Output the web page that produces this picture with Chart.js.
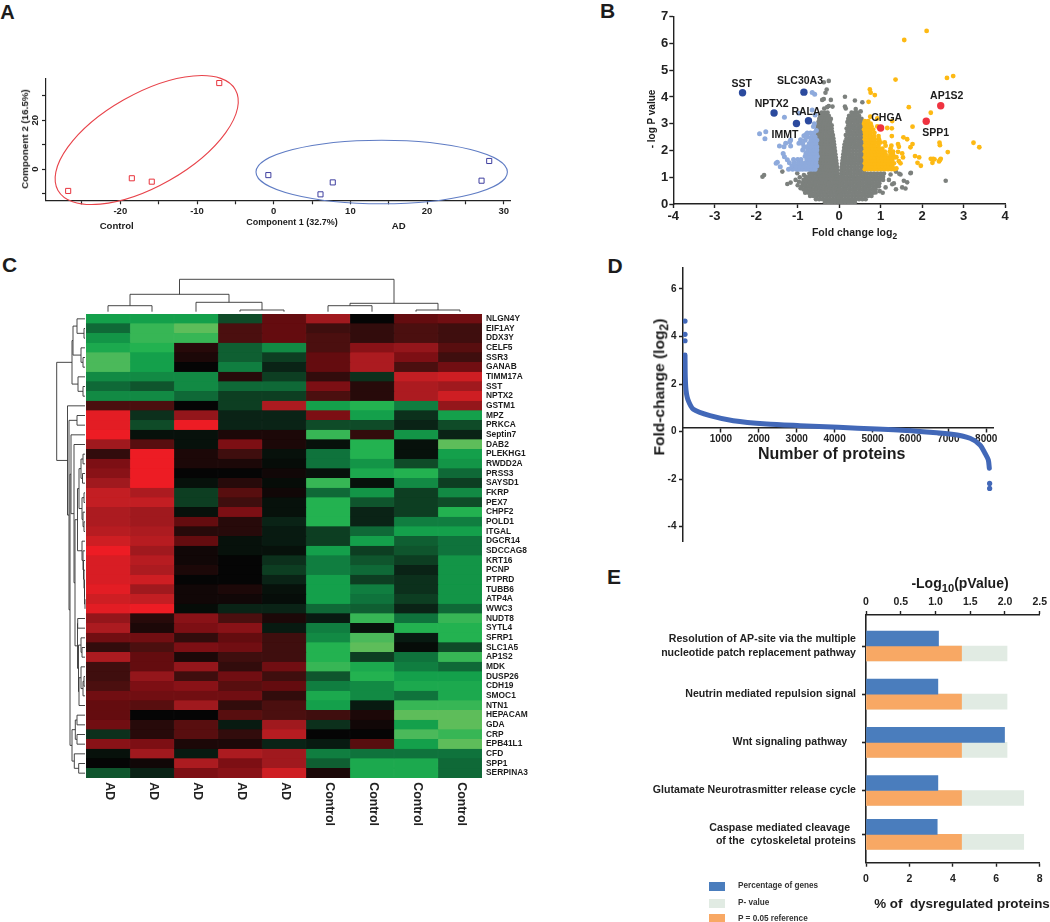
<!DOCTYPE html>
<html>
<head>
<meta charset="utf-8">
<title>Proteomics panels</title>
<script src="https://cdn.jsdelivr.net/npm/chart.js@4/dist/chart.umd.min.js"></script>
<style>
html, body { margin: 0; padding: 0; background: #fff; }
#page { position: relative; width: 1050px; height: 922px; overflow: hidden; font-family: "Liberation Sans", sans-serif; }
#page canvas { position: absolute; }
.note { position: absolute; font-weight: bold; color: #1c1c1c; white-space: nowrap; transform: translate(-50%, -50%); line-height: 1; }
.note sub { font-size: 0.8em; vertical-align: -0.35em; line-height: 0; }
.swatch { position: absolute; }
</style>
</head>
<body>
<div id="page"></div>
<script>
// ---- panel A: PCA ----
const pcaControl = [[-26.8, -9.0], [-18.5, -3.8], [-15.9, -5.2], [-7.1, 35.3]];
const pcaAD = [[-0.7, -2.5], [6.1, -10.4], [7.7, -5.5], [27.1, -4.8], [28.1, 3.3]];
// centre in data units, semi axes in pixels, angle in degrees
const pcaEllipses = [
    { center: [-16.56, 11.9], a: 102, b: 46.3, angle: -29.6, color: '#e8434a' },
    { center: [14.08, -1.23], a: 125.7, b: 31.8, angle: 0, color: '#5f7cc4' }
];

// ---- panel B: volcano ----
const volcanoUpNamed = [[2.45, 3.67], [2.10, 3.09], [1.0, 2.84]];
const volcanoDownNamed = [[-2.33, 4.16], [-0.85, 4.18], [-1.57, 3.40], [-0.74, 3.11], [-1.03, 3.01]];
// each row: y, then the x values read at that height
const volcanoUpSparse = [[2.11,6.47],[1.57,6.13],[2.75,4.78],[2.60,4.71],[1.36,4.65],[0.74,4.28],[0.76,4.16],[0.86,4.07],[0.71,3.82],[1.68,3.62],[2.21,3.41],[0.75,3.26],[0.92,3.2],[1.28,3.1],[1.77,2.89],[1.16,2.84],[1.27,2.83],[1.55,2.49],[1.64,2.42],[1.27,2.54],[3.24,2.29],[3.38,2.12],[2.42,2.29],[2.43,2.2],[2.62,1.94],[1.77,2.24],[1.72,2.12],[1.42,2.24],[1.44,2.14],[1.52,1.89],[1.54,1.74],[1.83,1.79],[1.93,1.74],[1.89,1.54],[1.97,1.43],[2.21,1.69],[2.27,1.69],[2.3,1.67],[2.25,1.54],[2.43,1.64],[2.45,1.69],[2.41,1.59],[1.48,1.52],[1.38,1.33],[1.42,1.95],[1.38,1.75],[1.44,1.6]];
const volcanoUpRows = [
    [1.3,.62,.7,.78,.86,.94,1.02,1.1,1.18,1.26,1.33],
    [1.41,.64,.72,.8,.88,.96,1.04,1.12,1.2,1.28],
    [1.52,.62,.7,.78,.86,.94,1.02,1.1,1.18,1.26,1.32],
    [1.63,.64,.72,.8,.88,.96,1.04,1.12,1.2,1.28],
    [1.74,.62,.7,.78,.86,.94,1.02,1.1,1.18,1.26,1.34],
    [1.85,.64,.72,.8,.88,.96,1.04,1.12,1.24,1.3],
    [1.96,.62,.7,.78,.86,.94,1.02,1.1,1.22,1.3],
    [2.07,.64,.72,.8,.88,.96,1.04,1.24],
    [2.18,.62,.7,.78,.86,.95,1.12,1.26],
    [2.3,.64,.72,.8,.88,.96,1.1,1.0],
    [2.42,.62,.7,.78,.86,.96],
    [2.54,.62,.7,.76,.84,.95],
    [2.66,.62,.68,.76,.85],
    [2.78,.6,.68,.75,.82],
    [2.9,.62,.7,.78,.92],
    [3.0,.6,.68,.76],
    [3.1,.62,.7]
];
const volcanoDownSparse = [[-1.92,2.63],[-1.77,2.7],[-1.79,2.44],[-1.32,3.24],[-0.97,3.39],[-0.65,4.17],[-0.59,4.1],[-0.65,3.51],[-0.58,3.33],[-1.44,2.17],[-1.33,2.14],[-1.29,2.27],[-1.17,2.39],[-1.19,2.33],[-1.49,1.56],[-1.52,1.52],[-1.42,1.39],[-1.35,1.89],[-1.32,1.77],[-1.25,1.65],[-1.17,2.17],[-0.97,2.27],[-0.93,2.4],[-0.8,2.6],[-0.77,2.65],[-0.69,2.65],[-0.61,2.65],[-0.62,2.9],[-0.55,2.75],[-0.85,2.55],[-0.6,3.0]];
const volcanoDownRows = [
    [1.3,-1.22,-1.12,-1.02,-.95,-.88,-.8,-.72,-.65,-.58],
    [1.42,-1.14,-1.04,-.94,-.84,-.74,-.67,-.6,-.54],
    [1.54,-1.2,-1.08,-.98,-.9,-.8,-.72,-.64,-.56],
    [1.66,-1.1,-1.0,-.92,-.78,-.7,-.62,-.55],
    [1.78,-.82,-.74,-.66,-.58,-.53],
    [1.9,-.8,-.7,-.62,-.55],
    [2.02,-.88,-.76,-.68,-.6,-.54],
    [2.14,-.85,-.78,-.68,-.6,-.54],
    [2.26,-.88,-.72,-.64,-.56],
    [2.38,-.82,-.68,-.6,-.54],
    [2.5,-.76,-.66,-.58]
];
const volcanoGraySparse = [[-.25,4.6],[-.37,4.55],[-.3,4.28],[-.33,4.16],[-.37,3.92],[-.2,3.89],[-.25,3.66],[-.41,3.89],[-.16,3.64],[-.29,3.62],[-.36,3.57],[.14,4.01],[.14,3.64],[.38,3.87],[.56,3.8],[.52,3.46],[.16,3.57],[.4,3.55],[-1.85,1.02],[-1.81,1.08],[-1.37,1.21],[-1.25,.75],[-1.17,.8],[-1.01,1.15],[-1.05,.9],[-.97,.83],[-.85,1.08],[-.77,.46],[-.93,.59],[-.8,.64],[-1.0,.7],[-.95,1.0],[1.37,1.21],[1.45,1.13],[1.48,1.1],[1.73,1.17],[1.28,.74],[1.64,.81],[1.52,.62],[1.37,.55],[.88,.43],[.98,.48],[2.57,.87],[1.56,.87],[1.72,1.15],[1.6,.58],[1.32,.77],[1.2,.9],[1.24,1.1],[1.12,.62],[1.05,.42]];
const volcanoGrayRows = [
    [3.42,-.42,-.35,-.28,.3,.38,.45],
    [3.3,-.46,-.39,-.32,-.25,.24,.32,.4,.48],
    [3.18,-.48,-.41,-.34,-.27,-.2,.22,.3,.38,.46,.54],
    [3.06,-.5,-.43,-.36,-.29,-.22,.2,.28,.36,.44,.52],
    [2.94,-.52,-.45,-.38,-.31,-.24,-.18,.22,.3,.38,.46,.54],
    [2.82,-.53,-.46,-.39,-.32,-.25,-.18,.18,.26,.34,.42,.5,.56],
    [2.7,-.53,-.46,-.39,-.32,-.25,-.17,.2,.28,.36,.44,.52,.58],
    [2.58,-.54,-.47,-.4,-.33,-.26,-.19,-.15,.16,.24,.32,.4,.48,.56],
    [2.46,-.54,-.47,-.4,-.33,-.26,-.19,-.14,.18,.26,.34,.42,.5,.57],
    [2.34,-.55,-.48,-.41,-.34,-.27,-.2,-.13,.15,.22,.3,.38,.46,.54],
    [2.22,-.55,-.48,-.41,-.34,-.27,-.2,-.12,.13,.2,.28,.36,.44,.52,.58],
    [2.1,-.56,-.49,-.42,-.35,-.28,-.21,-.14,-.11,.12,.18,.26,.34,.42,.5,.57],
    [1.98,-.56,-.49,-.42,-.35,-.28,-.21,-.14,-.1,.11,.18,.25,.33,.41,.49,.57],
    [1.86,-.57,-.5,-.43,-.36,-.29,-.22,-.15,-.09,.1,.17,.25,.33,.41,.49,.57],
    [1.74,-.58,-.51,-.44,-.37,-.3,-.23,-.16,-.08,.09,.16,.24,.32,.4,.48,.56],
    [1.62,-.6,-.52,-.45,-.38,-.31,-.24,-.17,-.1,-.07,.08,.15,.23,.31,.39,.47,.55],
    [1.5,-.6,-.53,-.46,-.39,-.32,-.25,-.18,-.11,-.06,.07,.14,.22,.3,.38,.46,.54],
    [1.38,-.62,-.55,-.48,-.41,-.34,-.27,-.2,-.13,-.05,.06,.13,.21,.29,.37,.45,.53,.58],
    [1.26,-.68,-.6,-.52,-.45,-.38,-.31,-.24,-.17,-.1,-.05,.05,.12,.2,.28,.36,.44,.52,.6],
    [1.14,-.72,-.64,-.57,-.5,-.43,-.36,-.29,-.22,-.15,-.08,-.04,.05,.12,.2,.28,.36,.44,.52,.6,.68,.76,.84,.92,1.0,1.08],
    [1.02,-.8,-.72,-.64,-.56,-.49,-.42,-.35,-.28,-.21,-.14,-.07,-.03,.04,.11,.19,.27,.35,.43,.51,.59,.67,.75,.83,.91,.99,1.06],
    [.9,-.86,-.78,-.7,-.62,-.54,-.46,-.38,-.3,-.22,-.14,-.07,-.03,.03,.1,.18,.26,.34,.42,.5,.58,.66,.74,.82,.9,.98,1.06],
    [.78,-.88,-.8,-.72,-.64,-.56,-.48,-.4,-.32,-.24,-.16,-.08,-.02,.02,.09,.17,.25,.33,.41,.49,.57,.65,.73,.81,.89,.97],
    [.66,-.9,-.82,-.74,-.66,-.58,-.5,-.42,-.34,-.26,-.18,-.1,-.02,.02,.1,.18,.26,.34,.42,.5,.58,.66,.74,.82,.9,.96],
    [.54,-.86,-.78,-.7,-.62,-.54,-.46,-.38,-.3,-.22,-.14,-.06,-.01,.01,.08,.16,.24,.32,.4,.48,.56,.64,.72,.8,.88],
    [.42,-.82,-.74,-.66,-.58,-.5,-.42,-.34,-.26,-.18,-.1,-.03,.03,.1,.18,.26,.34,.42,.5,.58,.66,.74,.82],
    [.3,-.7,-.62,-.54,-.46,-.38,-.3,-.22,-.14,-.06,0,.06,.14,.22,.3,.38,.46,.54,.62,.7,.78],
    [.18,-.56,-.48,-.4,-.32,-.24,-.16,-.08,0,.08,.16,.24,.32,.4,.48,.56,.64],
    [.07,-.34,-.26,-.18,-.1,-.02,.06,.14,.22,.3,.38]
];

// ---- panel C: heatmap ----
const heatColumns = ['AD', 'AD', 'AD', 'AD', 'AD', 'Control', 'Control', 'Control', 'Control'];
const heatGenes = ['NLGN4Y','EIF1AY','DDX3Y','CELF5','SSR3','GANAB','TIMM17A','SST','NPTX2','GSTM1','MPZ','PRKCA','Septin7','DAB2','PLEKHG1','RWDD2A','PRSS3','SAYSD1','FKRP','PEX7','CHPF2','POLD1','ITGAL','DGCR14','SDCCAG8','KRT16','PCNP','PTPRD','TUBB6','ATP4A','WWC3','NUDT8','SYTL4','SFRP1','SLC1A5','AP1S2','MDK','DUSP26','CDH19','SMOC1','NTN1','HEPACAM','GDA','CRP','EPB41L1','CFD','SPP1','SERPINA3'];
// read by eye: -10 light green, 0 black, 10 bright red
const heatValues = [
    [-7,-7,-7,-3,4,6.5,0,4,4.5],
    [-4.5,-8.5,-9.5,3,4,2.5,2,3,2.5],
    [-6.5,-8.5,-8.5,3,4,3,2,3,2.5],
    [-7.5,-8,1.5,-4,-6,3,5.5,6,3.5],
    [-9,-7,1,-4,-2.5,4,7,5,2.5],
    [-9,-7,0,-5.5,-1.5,4,7,3,4.5],
    [-6,-6,-6,1.5,-2.5,2,-2,8,8.5],
    [-4.5,-3.5,-6,-4.5,-4.5,5,1.5,7,6.5],
    [-6,-6,-4.5,-2.5,-2.5,3,1.5,7,8.5],
    [3,3,0,-2.5,7,-7,-8,-5.5,6],
    [9.5,-2,6,-1.5,-1.5,5,-7,-2,-7],
    [9.5,-3,10,-1.5,-1.5,-3,-3,-1.5,-3],
    [10,-.5,-.5,1,1,-8.5,2,-6.5,-1.5],
    [6.5,3.5,-.5,5,1,-.5,-8,-.5,-9.5],
    [2,10,1,2.5,-.5,-5,-8,-.5,-7],
    [5,10,1,1,-.2,-5,-6.5,-3,-6.5],
    [5.5,10,0,0,.5,-.5,-7.5,-8,-4.5],
    [6.5,10,-.5,1.5,-.2,-8.5,-.5,-6,-2.5],
    [8,7,-2.5,3.5,.5,-4.5,-6.5,-2.5,-6],
    [8,8,-2.5,2.5,-.5,-8,-3.5,-2.5,-3],
    [7,6.5,-.5,5,-.5,-8,-1.5,-2.5,-8],
    [7,6.5,4,1.5,-1.5,-8,-1.5,-5.5,-5.5],
    [7.5,7,1.5,1.5,-1,-2.5,-4.5,-7,-7],
    [8.5,7.5,4,-.5,-1,-2.5,-7,-4,-5],
    [10,6.5,.5,-.5,-.5,-7,-2.5,-3.5,-5],
    [9,7.5,.5,0,-2,-5.5,-3.5,-2.5,-6.5],
    [9,7,1,0,-2.5,-5.5,-4.5,-1.5,-6.5],
    [9,8.5,0,0,-1.5,-7,-2.5,-2,-6.5],
    [9.5,6.5,.5,1,-.5,-7,-5.5,-2,-6.5],
    [8.5,8,.5,.5,-.3,-7,-5,-2.5,-6.5],
    [9.5,10,-.2,-1.5,-1.5,-4.5,-4,-1.5,-4.5],
    [6,1.5,5.5,3,1,-1,-8.5,-5,-8.5],
    [7,1,5,5.5,-1,-5.5,-.5,-8,-8],
    [4.5,4.5,2,4,2.5,-6,-9,-1,-8],
    [2,3,5,4.5,2.5,-8,-9.5,-.2,-3],
    [7,4,1,2.5,2.5,-8,-2.5,-5,-8.5],
    [2.5,4,6,2,4.5,-8.5,-7.5,-5.5,-4.5],
    [2.5,6,2.5,4.5,2.5,-3.5,-8,-7,-7],
    [3,5,5.5,3.5,4,-5.5,-6,-7.5,-7.5],
    [4.5,4.5,4.5,4.5,2,-7.5,-6,-5,-7.5],
    [4,3.5,6.5,2,3,-7,-1,-8.5,-8.5],
    [4,0,0,3.5,3,2.5,1,-9.5,-9.5],
    [4.5,1.5,3.5,-1,6.5,-2,.5,-7,-9.5],
    [-2,1.5,3.5,2,7.5,0,0,-9,-8.5],
    [5.5,5,1,1,-1.5,-1,3.5,-7,-9.5],
    [-.5,6.5,-1,7,6.5,-5.5,-5,-5,-5],
    [0,.5,7,5,6.5,-4,-7.5,-7.5,-4.5],
    [-3.5,-1.5,5,5.5,8.5,1,-7.5,-7.5,-4.5]
];
// dendrograms: [height in px, childA, childB], a number is a column / row index
const columnTree = [34.7,
    [19.7, [8.3, 0, 1], [11.7, 2, [4, 3, 4]]],
    [10.7, [8.3, 5, 6], [4, 7, 8]]];
const hitsG1 = [8.5, [7, [5, [3, 14, 15], [3.5, 16, 17]], [4, [2, 18, 19], [3, 20, [2, 21, 22]]]],
    [4, 23, [3, 24, [2.5, 25, [2, 26, [1.5, 27, [1.5, 28, [1, 29, 30]]]]]]]];
const hitsG2 = [8.5, [8.3, 31, 32], [7.5, [5, 33, [4, 34, 35]], [7, [5, 36, [3, [2, 37, 38], 39]], 40]]];
const hitsG3 = [14, [10.7, [9, 41, 42], [9, 43, 44]], [11.7, 45, [7.3, 46, 47]]];
const rowTree = [29.3,
    [14, [13, [9, 0, [2, 1, 2]], [5, 3, [3, 4, 5]]], [8, 6, [3, 7, 8]]],
    [18.5, 9, [17, [9, 10, 11], [16, [15, 12, [12, 13, [11, hitsG1, hitsG2]]], hitsG3]]]];

// ---- panel D: ranked fold change ----
const rankedCurve = [[53,3.22],[60,2.31],[79,1.75],[132,1.33],[272,.94],[712,.67],[1328,.46],[2208,.32],[3087,.25],[4098,.18],[5110,.11],[6095,.03],[7090,-.11],[7573,-.28],[7836,-.56],[7968,-.91],[8055,-1.19],[8082,-1.54]];
const rankedOutliers = [[53,4.65],[53,4.09],[53,3.82],[8090,-2.18],[8090,-2.39]];
const rankedTicks = [1000, 2000, 3000, 4000, 5000, 6000, 7000, 8000];

// ---- panel E: pathways ----
const pathwayLabels = [
    ['Resolution of AP-site via the multiple', 'nucleotide patch replacement pathway'],
    'Neutrin mediated repulsion signal',
    'Wnt signaling pathway   ',
    'Glutamate Neurotrasmitter release cycle',
    ['Caspase mediated cleavage  ', 'of the  cytoskeletal proteins']
];
const pathwayPos = [1, 2, 3, 4, 4.91];
const genesPercent = [3.34, 3.31, 6.38, 3.31, 3.28];
const pValues = [2.03, 2.03, 2.03, 2.27, 2.27];
const pReference = [1.375, 1.375, 1.375, 1.375, 1.375];

// ---- helpers ----
const page = document.getElementById('page');
const ink = '#222';

Chart.defaults.font.family = '"Liberation Sans", sans-serif';
Chart.defaults.font.weight = 'bold';
Chart.defaults.color = ink;
Chart.defaults.animation = false;
Chart.defaults.responsive = false;
Chart.defaults.devicePixelRatio = 1;
Chart.defaults.plugins.legend.display = false;
Chart.defaults.plugins.tooltip.enabled = false;

function place(x, y, w, h) {
    const c = document.createElement('canvas');
    c.width = w; c.height = h;
    c.style.left = x + 'px'; c.style.top = y + 'px';
    c.style.width = w + 'px'; c.style.height = h + 'px';
    page.appendChild(c);
    return c;
}

function note(text, x, y, size, rotate) {
    const d = document.createElement('div');
    d.className = 'note';
    d.innerHTML = text;
    d.style.left = x + 'px'; d.style.top = y + 'px';
    d.style.fontSize = size + 'px';
    if (rotate) d.style.transform = `translate(-50%, -50%) rotate(${rotate}deg)`;
    page.appendChild(d);
}

function pairs(list) { return list.map(p => ({ x: p[0], y: p[1] })); }
function fromRows(rows) {
    return rows.flatMap(r => r.slice(1).map(x => ({ x: x, y: r[0] })));
}
function axis(size, border, extra) {
    return Object.assign({
        afterFit: s => { if (s.isHorizontal()) s.height = size; else s.width = size; },
        border: { display: true, color: ink, width: border },
        grid: { display: true, drawOnChartArea: false, drawTicks: true, tickColor: ink, tickWidth: border, tickLength: 4, offset: false }
    }, extra);
}

// ---- A ----
const ellipsePlugin = {
    id: 'pcaExtras',
    afterDatasetsDraw(chart) {
        const { ctx, scales } = chart;
        pcaEllipses.forEach(e => {
            ctx.save();
            ctx.strokeStyle = e.color;
            ctx.lineWidth = 1.1;
            ctx.beginPath();
            ctx.ellipse(scales.x.getPixelForValue(e.center[0]), scales.y.getPixelForValue(e.center[1]),
                e.a, e.b, e.angle * Math.PI / 180, 0, Math.PI * 2);
            ctx.stroke();
            ctx.restore();
        });
        // y tick labels are turned on their side in this panel
        [0, 20].forEach(v => {
            ctx.save();
            ctx.translate(35, scales.y.getPixelForValue(v));
            ctx.rotate(-Math.PI / 2);
            ctx.font = 'bold 9.5px "Liberation Sans"';
            ctx.fillStyle = ink;
            ctx.textAlign = 'center';
            ctx.textBaseline = 'middle';
            ctx.fillText(String(v), 0, 0);
            ctx.restore();
        });
    }
};

new Chart(place(0, 60, 540, 180), {
    type: 'scatter',
    data: {
        datasets: [
            { label: 'Control', data: pairs(pcaControl), pointStyle: 'rect', pointRadius: 3.6, borderColor: '#e8333c', borderWidth: 1, backgroundColor: 'transparent' },
            { label: 'AD', data: pairs(pcaAD), pointStyle: 'rect', pointRadius: 3.6, borderColor: '#3f3f9f', borderWidth: 1, backgroundColor: 'transparent' }
        ]
    },
    options: {
        layout: { padding: { left: 0, top: 18.3, right: 30, bottom: 10 } },
        scales: {
            x: axis(29.7, 1.2, { min: -29.69, max: 30.81, ticks: { stepSize: 5, includeBounds: false, padding: 1, maxRotation: 0, autoSkip: false, font: { size: 9.5 }, callback: v => (v % 10 === 0 ? v : '') } }),
            y: axis(46, 1.2, { min: -12.85, max: 37.25, ticks: { stepSize: 5, includeBounds: false, callback: () => '' } })
        }
    },
    plugins: [ellipsePlugin]
});

// ---- B ----
const volcanoPoint = (data, color, radius) => ({ data: data, backgroundColor: color, borderWidth: 0, pointRadius: radius });
new Chart(place(630, 0, 420, 245), {
    type: 'scatter',
    data: {
        datasets: [
            volcanoPoint(pairs(volcanoDownNamed), '#2b4a9e', 3.7),
            volcanoPoint(pairs(volcanoUpNamed), '#ef3340', 3.7),
            volcanoPoint(pairs(volcanoUpSparse).concat(fromRows(volcanoUpRows)), '#fdb913', 2.4),
            volcanoPoint(pairs(volcanoDownSparse).concat(fromRows(volcanoDownRows)), '#8eaadc', 2.5),
            volcanoPoint(pairs(volcanoGraySparse).concat(fromRows(volcanoGrayRows)), '#7c807d', 2.3)
        ]
    },
    options: {
        layout: { padding: { left: 12, top: 16.7, right: 45, bottom: 3 } },
        scales: {
            x: axis(38, 1.4, { min: -4, max: 4, ticks: { stepSize: 1, padding: 1, font: { size: 13 } } }),
            y: axis(31.3, 1.4, { min: 0, max: 7, ticks: { stepSize: 1, padding: 1, font: { size: 13 } } })
        }
    }
});

// ---- C ----
const greenStops = [[0,5,8,6],[1.5,10,35,22],[3,15,75,40],[5,15,115,60],[7,20,160,75],[8,35,178,80],[9,75,185,90],[10,112,192,90]];
const redStops = [[0,5,5,5],[1,28,8,8],[2,50,12,12],[3,75,15,15],[4,100,12,15],[5,125,15,20],[6.5,160,25,30],[8,195,30,35],[10,237,28,36]];
function heatColor(v) {
    const stops = v < 0 ? greenStops : redStops;
    const m = Math.abs(v);
    for (let i = 1; i < stops.length; i++) {
        if (m <= stops[i][0]) {
            const a = stops[i - 1], b = stops[i], t = (m - a[0]) / (b[0] - a[0]);
            return `rgb(${[1, 2, 3].map(k => Math.round(a[k] + (b[k] - a[k]) * t)).join(',')})`;
        }
    }
    return 'rgb(237,28,36)';
}

function drawTree(ctx, node, leafPos, leafDepth, toXY) {
    if (typeof node === 'number') return { p: leafPos(node), d: leafDepth };
    const a = drawTree(ctx, node[1], leafPos, leafDepth, toXY);
    const b = drawTree(ctx, node[2], leafPos, leafDepth, toXY);
    const h = node[0];
    const path = [toXY(a.p, a.d), toXY(a.p, h), toXY(b.p, h), toXY(b.p, b.d)];
    ctx.beginPath();
    path.forEach((q, i) => (i ? ctx.lineTo(q[0], q[1]) : ctx.moveTo(q[0], q[1])));
    ctx.stroke();
    return { p: (a.p + b.p) / 2, d: h };
}

const heatExtras = {
    id: 'heatExtras',
    afterDraw(chart) {
        const { ctx, scales, chartArea } = chart;
        ctx.save();
        ctx.strokeStyle = '#333';
        ctx.lineWidth = 0.9;
        drawTree(ctx, columnTree, c => scales.x.getPixelForValue(c + 0.5), 2.3, (p, d) => [p, chartArea.top - d]);
        drawTree(ctx, rowTree, r => scales.y.getPixelForValue(r), 1, (p, d) => [chartArea.left - d, p]);
        // column names read downwards, which axis ticks cannot do
        ctx.font = 'bold 12.3px "Liberation Sans"';
        ctx.fillStyle = ink;
        ctx.textAlign = 'left';
        ctx.textBaseline = 'middle';
        heatColumns.forEach((name, c) => {
            ctx.save();
            ctx.translate(scales.x.getPixelForValue(c + 0.5) + 1.5, chartArea.bottom + 4.3);
            ctx.rotate(Math.PI / 2);
            ctx.fillText(name, 0, 0);
            ctx.restore();
        });
        ctx.restore();
    }
};

new Chart(place(40, 260, 520, 590), {
    type: 'bar',
    data: {
        labels: heatGenes,
        datasets: heatColumns.map((name, c) => ({
            label: name,
            data: heatGenes.map(() => [c, c + 1]),
            backgroundColor: heatValues.map(row => heatColor(row[c])),
            borderColor: heatValues.map(row => heatColor(row[c])),
            borderWidth: 0.4,
            borderSkipped: false,
            barPercentage: 1,
            categoryPercentage: 1,
            grouped: false
        }))
    },
    options: {
        indexAxis: 'y',
        layout: { padding: { left: 46, top: 54, right: 18, bottom: 72 } },
        scales: {
            x: { type: 'linear', display: false, min: 0, max: 9 },
            y: {
                position: 'right',
                afterFit: s => { s.width = 60; },
                border: { display: false },
                grid: { display: false, drawTicks: false, tickLength: 0 },
                ticks: { autoSkip: false, padding: 4, font: { size: 8.4 }, color: '#1c1c1c' }
            }
        }
    },
    plugins: [heatExtras]
});

// ---- D ----
new Chart(place(640, 255, 370, 300), {
    type: 'scatter',
    data: {
        datasets: [
            { data: pairs(rankedOutliers), backgroundColor: '#4268b8', borderWidth: 0, pointRadius: 2.6 },
            { data: pairs(rankedCurve), showLine: true, borderColor: '#4268b8', borderWidth: 5, pointRadius: 0, borderCapStyle: 'round', borderJoinStyle: 'round', tension: 0.25 }
        ]
    },
    options: {
        layout: { padding: { left: 0, top: 13, right: 17, bottom: 14 } },
        scales: {
            x: axis(20, 1.5, {
                position: { y: 0.15 }, z: 1, min: 0, max: 8179,
                afterBuildTicks: s => { s.ticks = rankedTicks.map(v => ({ value: v })); },
                ticks: { padding: 1, maxRotation: 0, autoSkip: false, font: { size: 10 }, callback: v => String(v) }
            }),
            y: axis(43, 1.5, { min: -4.6, max: 6.88, ticks: { stepSize: 2, includeBounds: false, padding: 2.5, font: { size: 10 } } })
        }
    }
});

// ---- E ----
new Chart(place(640, 590, 410, 310), {
    type: 'bar',
    data: {
        datasets: [
            { label: 'Percentage of genes', data: pathwayPos.map((p, i) => ({ x: genesPercent[i], y: p })), backgroundColor: '#4a7dbd', xAxisID: 'x', stack: 'a' },
            { label: 'P = 0.05 reference', data: pathwayPos.map((p, i) => ({ x: pReference[i], y: p })), backgroundColor: '#f8a864', xAxisID: 'x2', stack: 'b' },
            { label: 'P- value', data: pathwayPos.map((p, i) => ({ x: pValues[i], y: p })), backgroundColor: '#e1ebe3', xAxisID: 'x2', stack: 'b' }
        ]
    },
    options: {
        indexAxis: 'y',
        barThickness: 15,
        layout: { padding: { left: 0, top: 0, right: 7.7, bottom: 12.3 } },
        scales: {
            x: axis(25, 1.4, { position: 'bottom', stacked: false, min: 0, max: 8, ticks: { stepSize: 2, padding: 6, font: { size: 10.5 } } }),
            x2: axis(25, 1.4, { position: 'top', stacked: false, min: 0, max: 2.5, ticks: { stepSize: 0.5, padding: 3, font: { size: 10.5 } } }),
            y: axis(226, 1.6, {
                type: 'linear', reverse: true, offset: false, min: 0.356, max: 5.498,
                afterBuildTicks: s => { s.ticks = pathwayPos.map(v => ({ value: v })); },
                ticks: { autoSkip: false, padding: 6, font: { size: 10.6, lineHeight: 1.25 }, callback: (v, i) => pathwayLabels[i] }
            })
        }
    }
});

// ---- free text ----
note('A', 7.5, 11.5, 20);
note('B', 607.5, 9.5, 21);
note('C', 9.5, 264, 21);
note('D', 615, 265, 21);
note('E', 614, 575.5, 21);

note('Component 1 (32.7%)', 292, 221.7, 9);
note('Control', 116.7, 226, 9.6);
note('AD', 398.7, 226, 9.6);
note('Component 2 (16.5%)', 25, 139, 9.8, -90);

note('- log P value', 652.3, 119, 10, -90);
note('Fold change log<sub>2</sub>', 854.5, 232, 10.5);
note('SST', 741.7, 83, 10.5);
note('SLC30A3', 800, 80.3, 10.5);
note('NPTX2', 771.7, 103, 10.5);
note('RALA', 806, 111, 10.5);
note('IMMT', 785, 133.7, 10.5);
note('CHGA', 886.7, 117.3, 10.5);
note('AP1S2', 946.7, 95, 10.5);
note('SPP1', 935.7, 131.7, 10.5);

note('Number of proteins', 831.7, 454, 16);
note('Fold-change (log<sub>2</sub>)', 659.3, 386.7, 15.5, -90);

note('-Log<sub>10</sub>(pValue)', 960, 582.5, 14);
note('% of&nbsp; dysregulated proteins', 962, 904, 13.4);

[['#4a7dbd', 'Percentage of genes', 886], ['#e1ebe3', 'P- value', 903], ['#f8a864', 'P = 0.05 reference', 918.5]].forEach(item => {
    const s = document.createElement('div');
    s.className = 'swatch';
    s.style.cssText = `left:709px;top:${item[2] - 4.5}px;width:16px;height:9px;background:${item[0]}`;
    page.appendChild(s);
    const n = document.createElement('div');
    n.className = 'note';
    n.textContent = item[1];
    n.style.cssText = `left:738px;top:${item[2]}px;font-size:8.2px;color:#333;transform:translateY(-50%)`;
    page.appendChild(n);
});
</script>
</body>
</html>
